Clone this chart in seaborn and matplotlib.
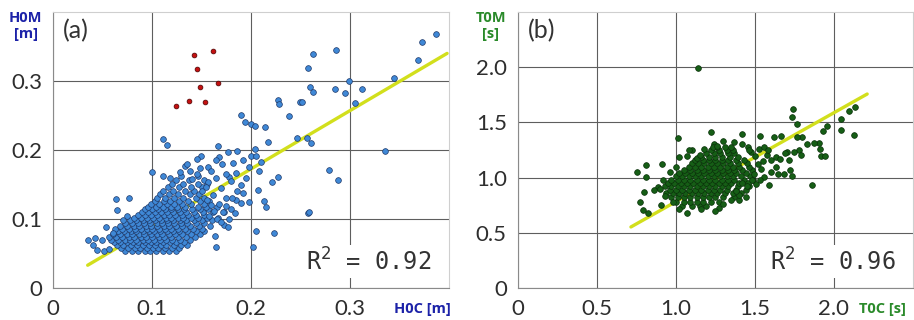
import matplotlib
matplotlib.use("Agg")
import matplotlib.pyplot as plt
import seaborn as sns
import pandas as pd

# (a) wave height, computed H0C vs measured H0M [m]
# dense part of the cloud, one row per H0M level: (H0M, [H0C values])
h0_cluster_rows = [
    (0.054, [0.073, 0.080, 0.086, 0.093, 0.098, 0.104, 0.111, 0.117, 0.124]),
    (0.058, [0.069, 0.076, 0.083, 0.088, 0.095, 0.101, 0.106, 0.113, 0.120, 0.127]),
    (0.062, [0.065, 0.071, 0.079, 0.085, 0.091, 0.097, 0.103, 0.109, 0.114, 0.122, 0.129, 0.135]),
    (0.066, [0.062, 0.068, 0.075, 0.081, 0.086, 0.093, 0.099, 0.104, 0.111, 0.118, 0.124, 0.132]),
    (0.070, [0.059, 0.066, 0.073, 0.078, 0.084, 0.091, 0.096, 0.102, 0.108, 0.114, 0.120, 0.128, 0.138]),
    (0.074, [0.057, 0.064, 0.070, 0.077, 0.082, 0.089, 0.094, 0.100, 0.107, 0.112, 0.119, 0.126, 0.134, 0.143]),
    (0.078, [0.061, 0.068, 0.075, 0.080, 0.087, 0.092, 0.099, 0.105, 0.110, 0.117, 0.123, 0.130, 0.139, 0.148]),
    (0.082, [0.066, 0.072, 0.079, 0.084, 0.091, 0.097, 0.102, 0.108, 0.115, 0.121, 0.127, 0.135, 0.144, 0.153]),
    (0.086, [0.063, 0.070, 0.077, 0.083, 0.089, 0.095, 0.100, 0.107, 0.113, 0.119, 0.126, 0.133, 0.141, 0.150]),
    (0.090, [0.068, 0.075, 0.082, 0.087, 0.094, 0.099, 0.105, 0.112, 0.117, 0.124, 0.130, 0.138, 0.147, 0.159]),
    (0.094, [0.073, 0.080, 0.086, 0.092, 0.098, 0.105, 0.110, 0.116, 0.122, 0.129, 0.135, 0.144, 0.153]),
    (0.098, [0.078, 0.084, 0.091, 0.097, 0.103, 0.109, 0.115, 0.121, 0.128, 0.134, 0.142, 0.150, 0.161]),
    (0.102, [0.082, 0.089, 0.095, 0.101, 0.107, 0.114, 0.119, 0.126, 0.131, 0.139, 0.146, 0.156, 0.167]),
    (0.106, [0.086, 0.093, 0.099, 0.105, 0.112, 0.117, 0.123, 0.130, 0.136, 0.144, 0.153]),
    (0.110, [0.090, 0.096, 0.103, 0.109, 0.115, 0.121, 0.128, 0.134, 0.142, 0.151, 0.162, 0.173]),
    (0.114, [0.093, 0.100, 0.106, 0.113, 0.119, 0.126, 0.132, 0.140, 0.148, 0.157]),
    (0.118, [0.096, 0.104, 0.111, 0.119, 0.125, 0.133, 0.146, 0.155, 0.166]),
    (0.122, [0.099, 0.107, 0.115, 0.122, 0.130, 0.139, 0.152]),
    (0.126, [0.103, 0.112, 0.118, 0.127, 0.136, 0.148, 0.158]),
    (0.131, [0.105, 0.113, 0.122, 0.131, 0.144, 0.153]),
    (0.136, [0.108, 0.117, 0.126, 0.138, 0.147]),
    (0.141, [0.111, 0.121, 0.133, 0.142]),
    (0.146, [0.116, 0.127, 0.139, 0.150]),
    (0.151, [0.120, 0.131, 0.146, 0.156]),
    (0.157, [0.124, 0.137, 0.152]),
    (0.162, [0.129, 0.146]),
]
# scattered points (H0C, H0M)
h0_loose = [
    (0.387, 0.368), (0.373, 0.356), (0.369, 0.331), (0.344, 0.305), (0.312, 0.289),
    (0.299, 0.300), (0.295, 0.283), (0.285, 0.288), (0.305, 0.268), (0.286, 0.345),
    (0.263, 0.339), (0.258, 0.319), (0.260, 0.291), (0.263, 0.284), (0.227, 0.272),
    (0.228, 0.267), (0.249, 0.270), (0.251, 0.270), (0.238, 0.249), (0.190, 0.251),
    (0.194, 0.241), (0.200, 0.238), (0.204, 0.235), (0.214, 0.234), (0.246, 0.218),
    (0.257, 0.217), (0.261, 0.210), (0.217, 0.211), (0.335, 0.199), (0.279, 0.171),
    (0.288, 0.156), (0.258, 0.108), (0.259, 0.110), (0.223, 0.080), (0.205, 0.082),
    (0.202, 0.060), (0.165, 0.060), (0.164, 0.076), (0.111, 0.216), (0.115, 0.207),
    (0.204, 0.201), (0.200, 0.192), (0.205, 0.192), (0.210, 0.182), (0.208, 0.170),
    (0.227, 0.161), (0.221, 0.154), (0.207, 0.142), (0.213, 0.126), (0.215, 0.118),
    (0.198, 0.124), (0.192, 0.138), (0.190, 0.123), (0.185, 0.128), (0.181, 0.131),
    (0.175, 0.119), (0.173, 0.091), (0.177, 0.089), (0.167, 0.206), (0.186, 0.199),
    (0.177, 0.197), (0.168, 0.190), (0.149, 0.192), (0.145, 0.187), (0.133, 0.177),
    (0.148, 0.174), (0.157, 0.176), (0.165, 0.186), (0.171, 0.179), (0.182, 0.181),
    (0.100, 0.168), (0.111, 0.163), (0.185, 0.166), (0.178, 0.161), (0.165, 0.159),
    (0.157, 0.154), (0.064, 0.129), (0.077, 0.131), (0.065, 0.113), (0.035, 0.069),
    (0.042, 0.073), (0.040, 0.062), (0.044, 0.055), (0.052, 0.054), (0.057, 0.057),
    (0.054, 0.089), (0.061, 0.079), (0.049, 0.070), (0.150, 0.140), (0.156, 0.128),
    (0.160, 0.120), (0.163, 0.112), (0.158, 0.105), (0.166, 0.100), (0.170, 0.096),
    (0.172, 0.110), (0.168, 0.122), (0.175, 0.130), (0.180, 0.115), (0.184, 0.108),
    (0.178, 0.100), (0.162, 0.135), (0.155, 0.147), (0.170, 0.145), (0.186, 0.140),
    (0.190, 0.150), (0.195, 0.160), (0.180, 0.155), (0.175, 0.165), (0.160, 0.170),
    (0.145, 0.165), (0.138, 0.170), (0.128, 0.168), (0.140, 0.158), (0.198, 0.175),
    (0.192, 0.185), (0.135, 0.180), (0.118, 0.160), (0.071, 0.098), (0.075, 0.104),
]
# flagged measurements shown in red
h0_flagged = [
    (0.142, 0.337), (0.162, 0.344), (0.145, 0.317), (0.148, 0.291),
    (0.167, 0.297), (0.124, 0.264), (0.137, 0.271), (0.154, 0.270),
]
h0_fit_x = [0.035, 0.398]
h0_fit_y = [0.033, 0.340]
h0_ticks = [0, 0.1, 0.2, 0.3]
h0_tick_labels = ["0", "0.1", "0.2", "0.3"]

# (b) wave period, computed T0C vs measured T0M [s]
t0_cluster_rows = [
    (0.74, [1.04, 1.10, 1.15, 1.19]),
    (0.78, [1.00, 1.05, 1.09, 1.13, 1.17, 1.22, 1.27]),
    (0.82, [0.97, 1.01, 1.05, 1.09, 1.13, 1.17, 1.21, 1.25, 1.30, 1.37]),
    (0.86, [0.94, 0.98, 1.02, 1.06, 1.10, 1.14, 1.18, 1.22, 1.26, 1.31, 1.36, 1.41]),
    (0.89, [0.96, 1.00, 1.04, 1.08, 1.12, 1.16, 1.20, 1.24, 1.28, 1.32, 1.38, 1.44]),
    (0.92, [0.93, 0.97, 1.01, 1.05, 1.09, 1.13, 1.17, 1.21, 1.25, 1.29, 1.33, 1.39, 1.46]),
    (0.95, [0.95, 0.99, 1.03, 1.07, 1.11, 1.15, 1.19, 1.23, 1.27, 1.31, 1.35, 1.40]),
    (0.98, [0.97, 1.01, 1.05, 1.09, 1.13, 1.17, 1.21, 1.25, 1.29, 1.33, 1.37, 1.43, 1.49]),
    (1.01, [1.00, 1.04, 1.08, 1.12, 1.16, 1.20, 1.24, 1.28, 1.32, 1.36, 1.41, 1.47]),
    (1.04, [1.02, 1.06, 1.10, 1.14, 1.18, 1.22, 1.26, 1.30, 1.34, 1.38, 1.44]),
    (1.07, [1.05, 1.09, 1.13, 1.17, 1.21, 1.25, 1.29, 1.33, 1.37, 1.42, 1.48]),
    (1.10, [1.08, 1.12, 1.16, 1.20, 1.24, 1.28, 1.32, 1.36, 1.40, 1.46]),
    (1.13, [1.10, 1.14, 1.18, 1.22, 1.26, 1.30, 1.34, 1.39, 1.45]),
    (1.16, [1.12, 1.17, 1.21, 1.25, 1.29, 1.33, 1.38, 1.43]),
    (1.19, [1.16, 1.21, 1.25, 1.29, 1.34, 1.39]),
    (1.22, [1.19, 1.24, 1.28, 1.33, 1.37]),
    (1.25, [1.22, 1.27, 1.32, 1.36]),
    (1.28, [1.26, 1.31, 1.35]),
]
t0_loose = [
    (1.14, 1.99), (1.743, 1.623), (1.733, 1.548), (1.768, 1.488), (2.131, 1.639),
    (2.095, 1.599), (2.046, 1.530), (2.046, 1.428), (2.126, 1.389), (1.958, 1.467),
    (1.931, 1.419), (1.859, 0.937), (1.916, 1.193), (1.941, 1.193), (1.912, 1.262),
    (1.908, 1.313), (1.872, 1.313), (1.832, 1.301), (1.800, 1.367), (1.764, 1.367),
    (1.781, 1.253), (1.747, 1.232), (1.705, 1.232), (1.716, 1.157), (1.722, 1.066),
    (1.684, 1.030), (1.646, 1.036), (1.737, 1.012), (1.789, 1.202), (1.663, 1.373),
    (1.621, 1.367), (1.533, 1.373), (1.415, 1.392), (1.221, 1.413), (1.011, 1.361),
    (0.752, 1.051), (0.811, 1.111), (0.811, 1.006), (0.909, 1.127), (0.800, 0.870),
    (0.773, 0.780), (0.794, 0.705), (0.821, 0.675), (0.905, 0.750), (0.884, 0.916),
    (0.859, 0.886), (1.067, 0.675), (1.158, 0.720), (1.274, 0.729), (1.400, 0.795),
    (1.442, 0.825), (1.589, 0.931), (1.558, 1.006), (1.537, 1.081), (1.600, 1.157),
    (1.632, 1.187), (1.575, 1.202), (1.526, 1.262), (1.558, 1.277), (1.474, 1.232),
    (1.453, 1.277), (1.495, 1.036), (1.457, 0.952), (1.505, 0.946), (1.02, 1.19),
    (1.07, 1.20), (1.13, 1.18), (1.00, 1.10), (0.96, 1.05), (0.92, 0.98),
    (0.90, 0.90), (0.93, 0.83), (0.98, 0.78), (1.02, 0.72), (1.25, 0.70),
    (1.30, 0.76), (1.35, 0.80), (1.40, 0.84), (1.38, 0.88), (1.45, 0.92),
    (1.48, 0.98), (1.52, 1.12), (1.50, 1.20), (1.46, 1.25), (1.42, 1.30),
    (1.37, 1.32), (1.30, 1.33), (1.24, 1.30), (1.18, 1.26), (1.10, 1.25),
    (1.55, 1.15), (1.60, 1.05), (1.63, 1.10), (1.66, 1.17), (1.69, 1.22),
    (1.58, 1.25), (1.53, 0.98), (1.42, 0.95), (1.084, 1.247), (1.154, 1.208),
    (1.232, 1.277), (1.26, 1.29),
]
t0_fit_x = [0.715, 2.21]
t0_fit_y = [0.553, 1.757]
t0_ticks = [0, 0.5, 1.0, 1.5, 2.0]
t0_tick_labels = ["0", "0.5", "1.0", "1.5", "2.0"]

r2_labels = ["0.92", "0.96"]


def to_frame(rows, loose):
    xs, ys = [], []
    for y, row in rows:
        for x in row:
            xs.append(x)
            ys.append(y)
    for x, y in loose:
        xs.append(x)
        ys.append(y)
    return pd.DataFrame({"calc": xs, "meas": ys})


def style_axes(ax, lim, ticks, labels):
    ax.set_xlim(0, lim)
    ax.set_ylim(0, lim)
    ax.set_xticks(ticks)
    ax.set_yticks(ticks)
    ax.set_xticklabels(labels)
    ax.set_yticklabels(labels)
    ax.tick_params(length=0, labelsize=16, labelcolor="#2e2e2e", pad=8)
    ax.grid(True, color="#5e5e5e", lw=0.8)
    ax.set_axisbelow(True)
    for s in ["left", "bottom"]:
        ax.spines[s].set_color("#8a8a8a")
    for s in ["top", "right"]:
        ax.spines[s].set_color("#cfcfcf")
    ax.set_xlabel("")
    ax.set_ylabel("")


sns.set_style("white")
plt.rcParams["font.family"] = ["Lato", "DejaVu Sans"]

fig = plt.figure(figsize=(9.14, 3.2), dpi=100)
ax1 = fig.add_axes([0.058, 0.1, 0.4333, 0.8625])
ax2 = fig.add_axes([0.5667, 0.1, 0.4322, 0.8625])

# panel (a)
df_h0 = to_frame(h0_cluster_rows, h0_loose)
df_red = pd.DataFrame(h0_flagged, columns=["calc", "meas"])
sns.lineplot(x=h0_fit_x, y=h0_fit_y, ax=ax1, color="#d2df1c", lw=2.4, zorder=2)
sns.scatterplot(data=df_h0, x="calc", y="meas", ax=ax1, s=17, color="#3f88d6",
                edgecolor="#1f3a6a", linewidth=0.5, zorder=3)
sns.scatterplot(data=df_red, x="calc", y="meas", ax=ax1, s=12, color="#c41010",
                edgecolor="#4a0000", linewidth=0.5, zorder=4)
style_axes(ax1, 0.4, h0_ticks, h0_tick_labels)

# panel (b)
df_t0 = to_frame(t0_cluster_rows, t0_loose)
sns.lineplot(x=t0_fit_x, y=t0_fit_y, ax=ax2, color="#d2df1c", lw=2.4, zorder=2)
sns.scatterplot(data=df_t0, x="calc", y="meas", ax=ax2, s=17, color="#165e16",
                edgecolor="#0a300a", linewidth=0.5, zorder=3)
style_axes(ax2, 2.5, t0_ticks, t0_tick_labels)

blue = "#1c22a8"
green = "#2a8a2a"
lab_font = ["Open Sans", "DejaVu Sans"]
fig.text(0.028, 0.965, "H0M\n[m]", ha="center", va="top", fontsize=10.5,
         fontweight="bold", color=blue, linespacing=1.2, family=lab_font)
fig.text(0.462, 0.012, "H0C [m]", ha="center", va="bottom", fontsize=10.5,
         fontweight="bold", color=blue, family=lab_font)
fig.text(0.537, 0.965, "T0M\n[s]", ha="center", va="top", fontsize=10.5,
         fontweight="bold", color=green, linespacing=1.2, family=lab_font)
fig.text(0.966, 0.012, "T0C [s]", ha="center", va="bottom", fontsize=10.5,
         fontweight="bold", color=green, family=lab_font)

for ax, tag, r2 in [(ax1, "(a)", r2_labels[0]), (ax2, "(b)", r2_labels[1])]:
    ax.text(0.025, 0.975, tag, transform=ax.transAxes, ha="left", va="top",
            fontsize=18, color="#333333")
    ax.text(0.955, 0.095, "R$^2$ = " + r2, transform=ax.transAxes, ha="right",
            va="center", fontsize=17, color="#333333", family="DejaVu Sans Mono",
            bbox=dict(facecolor="white", edgecolor="none", pad=2))

fig.savefig("out.png", dpi=100)
